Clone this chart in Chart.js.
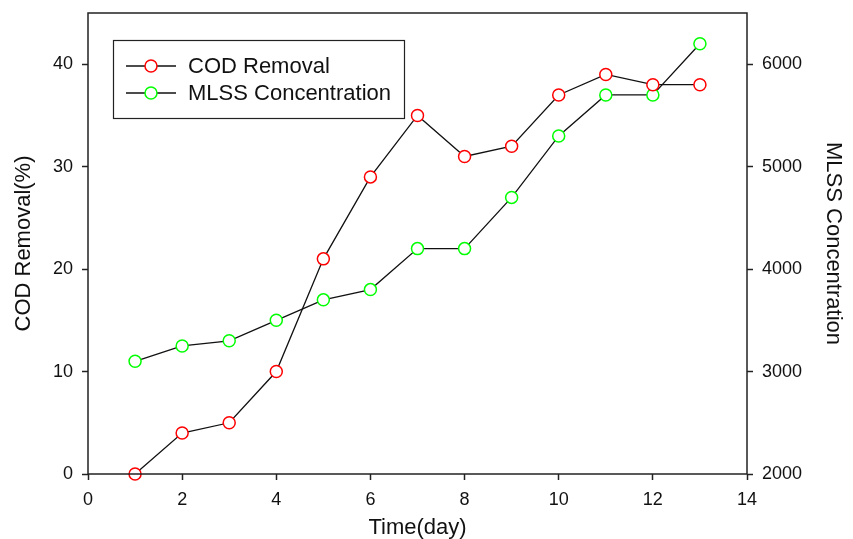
<!DOCTYPE html>
<html>
<head>
<meta charset="utf-8">
<script src="https://cdn.jsdelivr.net/npm/chart.js@4.4.0/dist/chart.umd.min.js"></script>
<style>
  html, body { margin: 0; padding: 0; background: #fff; }
  #wrap { width: 853px; height: 539px; }
</style>
</head>
<body>
<div id="wrap"><canvas id="c" width="853" height="539"></canvas></div>
<script>
// Operating days and measured values
const days = [1, 2, 3, 4, 5, 6, 7, 8, 9, 10, 11, 12, 13];
const codRemoval = [0, 4, 5, 10, 21, 29, 35, 31, 32, 37, 39, 38, 38];
const mlssConcentration = [3100, 3250, 3300, 3500, 3700, 3800, 4200, 4200, 4700, 5300, 5700, 5700, 6200];

// Axis tick values
const dayTicks = [0, 2, 4, 6, 8, 10, 12, 14];
const codTicks = [0, 10, 20, 30, 40];
const mlssTicks = [2000, 3000, 4000, 5000, 6000];

const FONT = "'Liberation Sans', Arial, sans-serif";
const INK = '#111';

const toPoints = (xs, ys) => xs.map((x, i) => ({ x: x, y: ys[i] }));
const fixedTicks = arr => scale => { scale.ticks = arr.map(v => ({ value: v })); };
const plainNumber = v => String(v);
// Fixed axis band sizes; label overhang padding is not reserved
const fixSize = (prop, size) => s => {
  s[prop] = size;
  s.paddingTop = 0; s.paddingBottom = 0; s.paddingLeft = 0; s.paddingRight = 0;
};

// Frame around the plot area plus the boxed legend in its upper left corner
const frameAndLegend = {
  id: 'frameAndLegend',
  afterDatasetsDraw(chart) {
    const ctx = chart.ctx;
    const a = chart.chartArea;
    ctx.save();
    ctx.strokeStyle = '#222';
    ctx.lineWidth = 1.5;
    ctx.strokeRect(a.left, a.top, a.right - a.left, a.bottom - a.top);

    const x0 = a.left + 25, y0 = a.top + 27, w = 291, h = 78;
    ctx.fillStyle = '#fff';
    ctx.fillRect(x0, y0, w, h);
    ctx.lineWidth = 1.2;
    ctx.strokeRect(x0 + 0.5, y0 + 0.5, w, h);

    chart.data.datasets.forEach((ds, i) => {
      const y = y0 + 26 + i * 27;
      ctx.strokeStyle = ds.borderColor;
      ctx.lineWidth = ds.borderWidth;
      ctx.beginPath();
      ctx.moveTo(x0 + 13, y);
      ctx.lineTo(x0 + 63, y);
      ctx.stroke();
      ctx.beginPath();
      ctx.arc(x0 + 38, y, ds.pointRadius, 0, Math.PI * 2);
      ctx.fillStyle = '#fff';
      ctx.fill();
      ctx.strokeStyle = ds.pointBorderColor;
      ctx.lineWidth = ds.pointBorderWidth;
      ctx.stroke();
      ctx.fillStyle = INK;
      ctx.font = '22px ' + FONT;
      ctx.textBaseline = 'middle';
      ctx.textAlign = 'left';
      ctx.fillText(ds.label, x0 + 75, y + 1);
    });
    ctx.restore();
  }
};

const tickGrid = { display: true, drawOnChartArea: false, drawTicks: true, tickLength: 6, tickColor: '#222', tickWidth: 1.5 };

new Chart(document.getElementById('c'), {
  type: 'line',
  data: {
    datasets: [
      {
        label: 'COD Removal',
        data: toPoints(days, codRemoval),
        yAxisID: 'y',
        borderColor: INK,
        borderWidth: 1.3,
        pointRadius: 6,
        pointBorderWidth: 1.5,
        pointBorderColor: '#ff0000',
        pointBackgroundColor: '#ffffff',
        clip: false,
        tension: 0
      },
      {
        label: 'MLSS Concentration',
        data: toPoints(days, mlssConcentration),
        yAxisID: 'y1',
        borderColor: INK,
        borderWidth: 1.3,
        pointRadius: 6,
        pointBorderWidth: 1.5,
        pointBorderColor: '#00ff00',
        pointBackgroundColor: '#ffffff',
        clip: false,
        tension: 0
      }
    ]
  },
  options: {
    responsive: false,
    animation: false,
    devicePixelRatio: 1,
    layout: { padding: { top: 13, left: 0, right: 0, bottom: 0 }, autoPadding: false },
    plugins: { legend: { display: false }, tooltip: { enabled: false } },
    scales: {
      x: {
        type: 'linear',
        position: 'bottom',
        min: 0,
        max: 14,
        afterBuildTicks: fixedTicks(dayTicks),
        afterFit: fixSize('height', 65),
        grid: tickGrid,
        border: { display: false },
        ticks: { color: INK, font: { family: FONT, size: 18 }, padding: 9, callback: plainNumber },
        title: { display: true, text: 'Time(day)', color: INK, font: { family: FONT, size: 22 }, padding: { top: 0, bottom: -2 } }
      },
      y: {
        type: 'linear',
        position: 'left',
        min: 0,
        max: 45,
        afterBuildTicks: fixedTicks(codTicks),
        afterFit: fixSize('width', 88),
        grid: tickGrid,
        border: { display: false },
        ticks: { color: INK, font: { family: FONT, size: 18 }, padding: 9, callback: plainNumber },
        title: { display: true, text: 'COD Removal(%)', color: INK, font: { family: FONT, size: 22 }, padding: { top: 11, bottom: 0 } }
      },
      y1: {
        type: 'linear',
        position: 'right',
        min: 2000,
        max: 6500,
        afterBuildTicks: fixedTicks(mlssTicks),
        afterFit: fixSize('width', 106),
        grid: tickGrid,
        border: { display: false },
        ticks: { color: INK, font: { family: FONT, size: 18 }, padding: 9, callback: plainNumber },
        title: { display: true, text: 'MLSS Concentration', color: INK, font: { family: FONT, size: 22 }, padding: { top: 7, bottom: 0 } }
      }
    }
  },
  plugins: [frameAndLegend]
});
</script>
</body>
</html>
